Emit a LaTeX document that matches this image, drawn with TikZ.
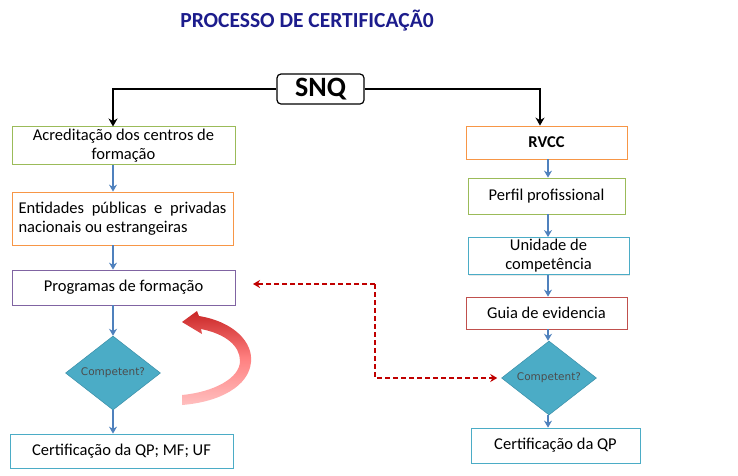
\documentclass[tikz,border=0pt]{standalone}
\usepackage{fontspec}
\setmainfont{Carlito}
\newfontfamily\diafont{DejaVu Sans}
\usetikzlibrary{shapes.geometric,arrows.meta,shadows}
\definecolor{cgreen}{HTML}{9BBB59}
\definecolor{corange}{HTML}{F79646}
\definecolor{cpurple}{HTML}{8064A2}
\definecolor{ccyan}{HTML}{4BACC6}
\definecolor{cred}{HTML}{C0504D}
\definecolor{cblue}{HTML}{4F81BD}
\definecolor{ctitle}{HTML}{1C1C8C}
\definecolor{cdash}{HTML}{C00000}
\definecolor{cdiafill}{HTML}{4BACC6}
\definecolor{cdiaedge}{HTML}{3A8EA8}
\tikzset{
  box/.style={draw, line width=0.8pt, fill=white, align=center, inner sep=2pt,
    font=\fontsize{16.5}{19}\selectfont,
    drop shadow={opacity=0.18, shadow xshift=1pt, shadow yshift=-1pt}},
  dia/.style={diamond, draw=cdiaedge, line width=0.5pt, fill=cdiafill, inner sep=0pt,
    font=\diafont\fontsize{10.5}{12}\selectfont, text=black!70},
  flow/.style={draw=cblue, line width=2.2pt, -{Stealth[length=7pt,width=8pt]}},
  mainline/.style={draw=black, line width=2.2pt, -{Stealth[length=8pt,width=9pt]}},
  feedback/.style={draw=cdash, line width=2pt, dashed, dash pattern=on 5pt off 3pt, -{Stealth[length=7pt,width=8pt]}}
}
\begin{document}
\begin{tikzpicture}[x=1pt,y=-1pt]
\useasboundingbox (0,0) rectangle (738,475);
% title
\node[font=\bfseries\fontsize{21.5}{24}\selectfont, text=ctitle] (title) at (307,21) {PROCESSO DE CERTIFICAÇÃ0};
% SNQ
\node[draw, line width=1.2pt, rounded corners=4pt, fill=white, minimum width=87pt, minimum height=30pt, inner sep=0pt,
  font=\bfseries\fontsize{28}{30}\selectfont] (snq) at (320.5,89) {SNQ};
% left column
\node[box, draw=cgreen, minimum width=223pt, minimum height=35pt] (acr) at (123.5,145.5) {Acreditação dos centros de\\formação};
\node[box, draw=corange, minimum width=221pt, minimum height=53pt, text width=208pt, align=justify] (ent) at (122.5,218.5)
  {Entidades públicas e privadas\linebreak nacionais ou estrangeiras};
\node[box, draw=cpurple, minimum width=223pt, minimum height=35pt] (prog) at (123.5,287.5) {Programas de formação};
\node[dia, minimum width=95pt, minimum height=73pt] (diaL) at (113,373) {Competent?};
\node[box, draw=ccyan, minimum width=223pt, minimum height=34pt] (certL) at (121.5,451) {Certificação da QP; MF; UF};
% right column
\node[box, draw=corange, minimum width=161pt, minimum height=33pt, font=\bfseries\fontsize{16.5}{19}\selectfont] (rvcc) at (546.5,142.5) {RVCC};
\node[box, draw=cgreen, minimum width=157pt, minimum height=36pt] (perfil) at (546.5,196) {Perfil profissional};
\node[box, draw=ccyan, minimum width=161pt, minimum height=36pt] (unid) at (548.5,256) {Unidade de\\competência};
\node[box, draw=cred, minimum width=161pt, minimum height=32pt] (guia) at (546.5,313) {Guia de evidencia};
\node[dia, minimum width=95pt, minimum height=68pt] (diaR) at (549,378) {Competent?};
\node[box, draw=ccyan, minimum width=169pt, minimum height=35pt] (certR) at (555.5,445.5) {Certificação da QP};
% SNQ branches
\coordinate (tl) at (113,89);
\coordinate (tr) at (540,89);
\draw[mainline] (snq.west) -- (tl) -- (tl |- acr.north);
\draw[mainline] (snq.east) -- (tr) -- (tr |- rvcc.north);
% left flow
\draw[flow] (acr.south -| diaL) -- (ent.north -| diaL);
\draw[flow] (ent.south -| diaL) -- (prog.north -| diaL);
\draw[flow] (prog.south -| diaL) -- (diaL.north);
\draw[flow] (diaL.south) -- (certL.north -| diaL);
% right flow
\coordinate (rx) at (548,0);
\draw[flow] (rvcc.south -| rx) -- (perfil.north -| rx);
\draw[flow] (perfil.south -| rx) -- (unid.north -| rx);
\draw[flow] (unid.south -| rx) -- (guia.north -| rx);
\draw[flow] (guia.south -| rx) -- (diaR.north -| rx);
\draw[flow] (diaR.south -| rx) -- (certR.north -| rx);
% dashed feedback
\coordinate (dk) at (375,284);
\draw[feedback] (dk) -- ++(-122,0) coordinate (dkend);
\draw[feedback] (dk) -- (dk |- diaR) -- ([xshift=-4pt]diaR.west);
% curved red arrow
\shade[top color=red!75!black!85, bottom color=red!25, middle color=red!50]
  (182,322) -- (197,311) -- (199,316)
  .. controls (235,322) and (253,343) .. (251,362)
  .. controls (249,386) and (220,402) .. (182,405)
  -- (182,395)
  .. controls (214,392) and (240,378) .. (240,361)
  .. controls (240,346) and (226,334) .. (201,329)
  -- (202,334) -- cycle;
\end{tikzpicture}
\end{document}
